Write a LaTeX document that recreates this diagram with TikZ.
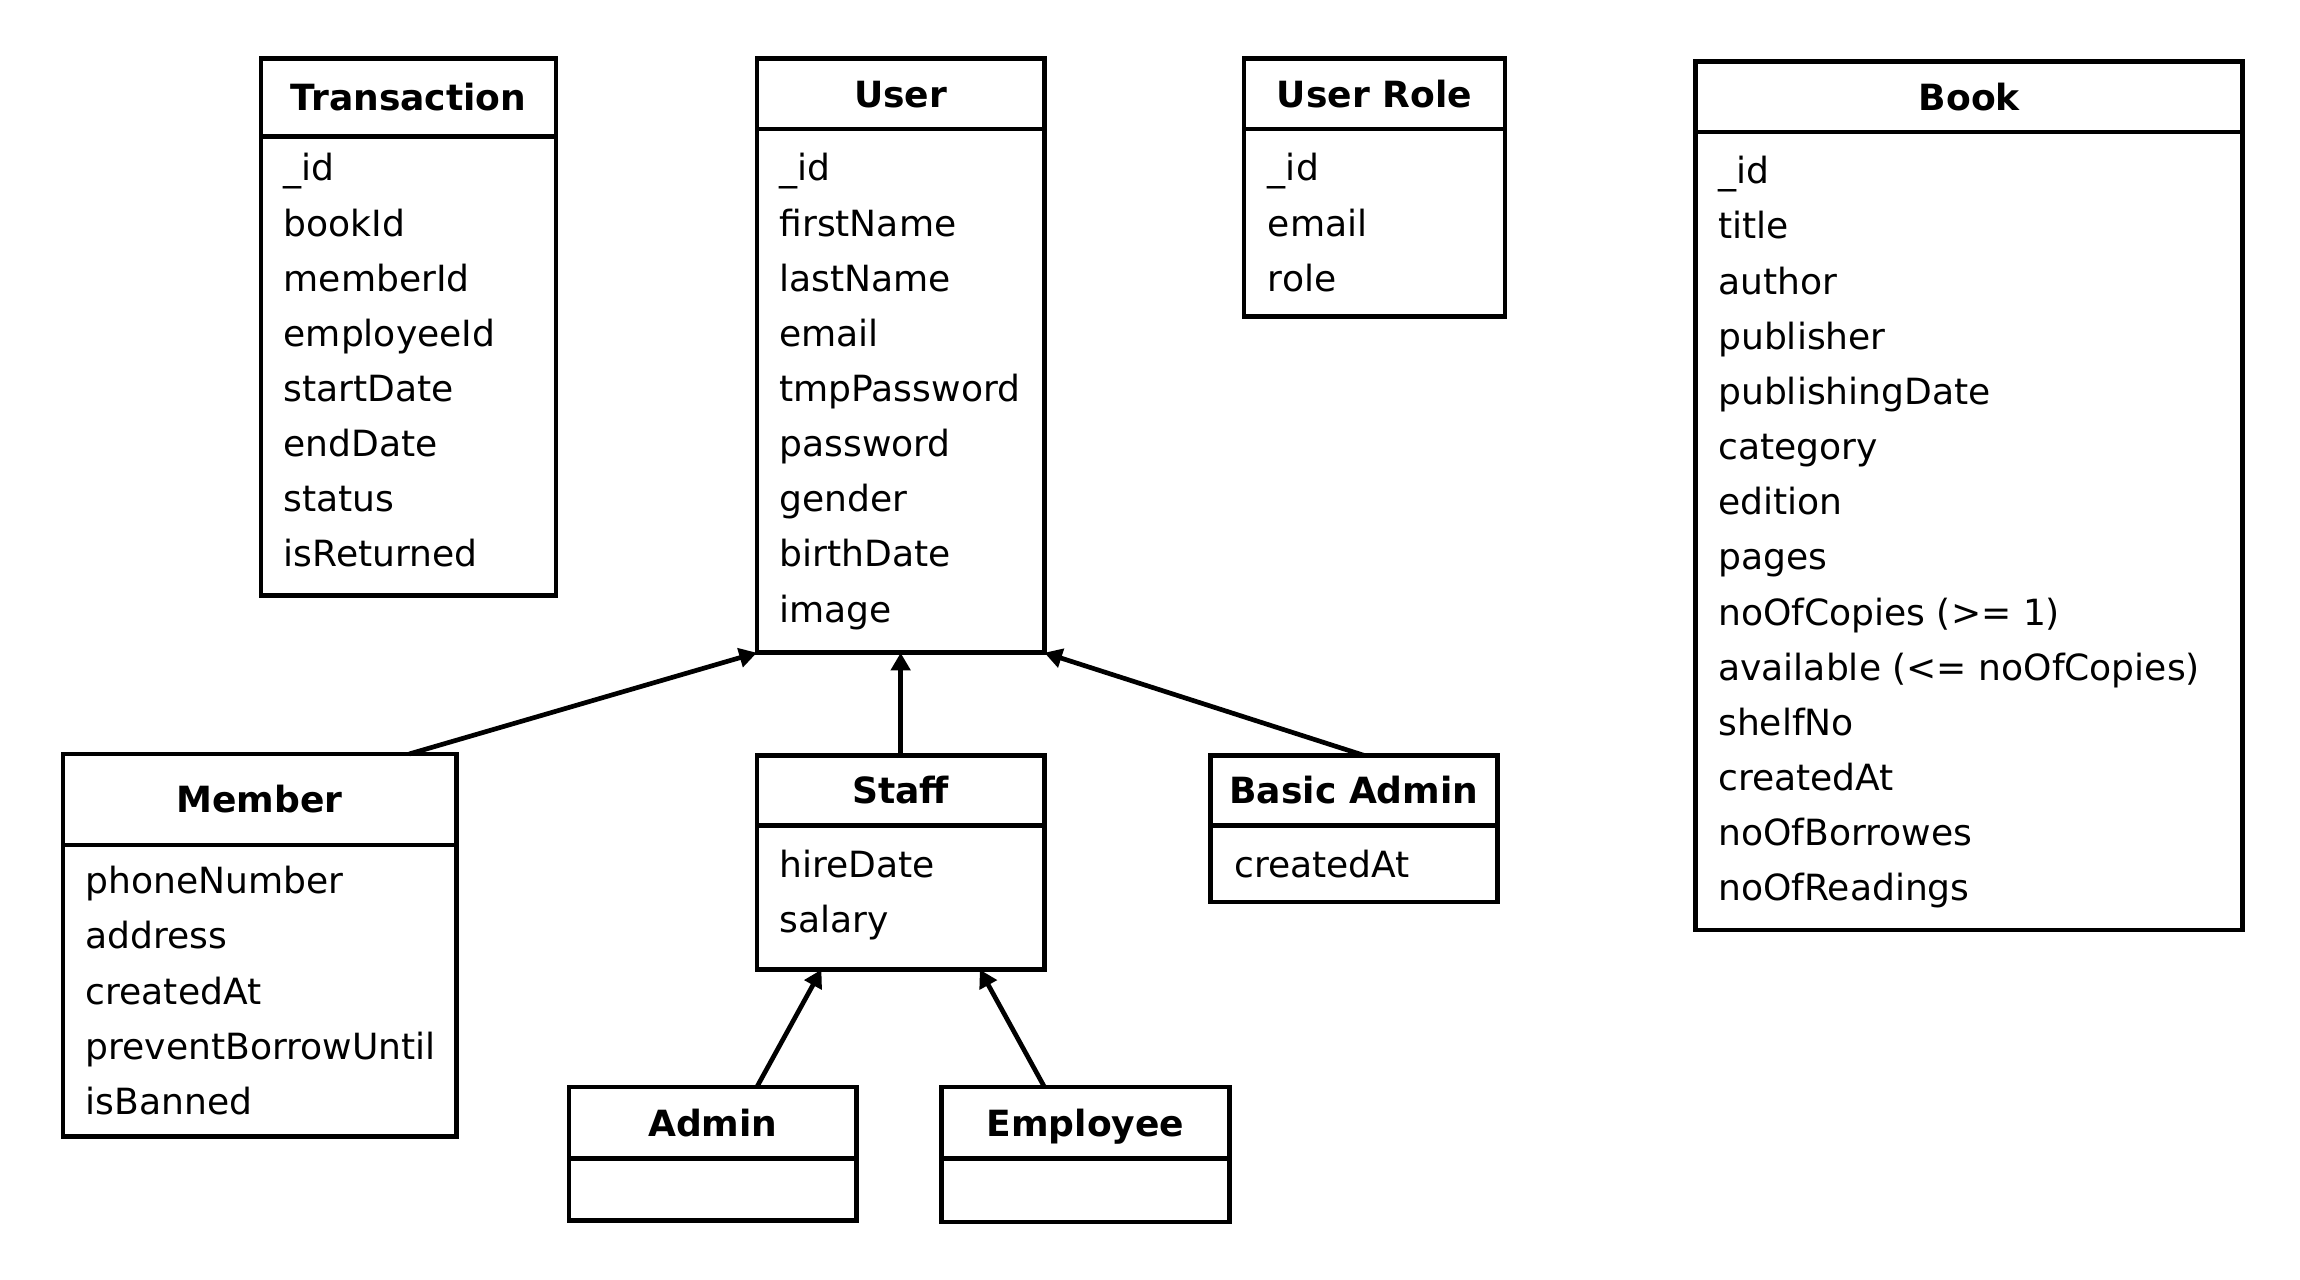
\documentclass[tikz,border=0pt]{standalone}
\usepackage{fontspec}
\setmainfont{DejaVu Sans}
\usetikzlibrary{positioning,arrows.meta}

\begin{document}
\begin{tikzpicture}[x=1pt, y=-1pt,
    head/.style={draw, line width=1.6pt, outer sep=0pt, inner sep=0pt, font=\bfseries,
        text height=9pt, text depth=0pt, anchor=north west},
    body/.style={draw, line width=1.6pt, outer sep=0pt, inner sep=0pt, anchor=north},
    attrs/.style={inner sep=0pt, align=left},
    isa/.style={-{Triangle[length=6pt, width=6.5pt]}, line width=1.6pt}]
\fontsize{12.3pt}{18.8pt}\selectfont
\useasboundingbox (0,0) rectangle (784,436.3);

% Nodes
\node[head, minimum width=100.5pt, minimum height=26.5pt] (transaction) at (89,20) {Transaction};
\node[body, minimum width=100.5pt, minimum height=156.5pt] (transaction-body) at (transaction.south) {};
\node[attrs, below right=5.6pt and 7.5pt of transaction-body.north west] (transaction-attrs)
    {\_id\\bookId\\memberId\\employeeId\\startDate\\endDate\\status\\isReturned};

\node[head, minimum width=98pt, minimum height=24pt] (user) at (258,20) {User};
\node[body, minimum width=98pt, minimum height=178.5pt] (user-body) at (user.south) {};
\node[attrs, below right=8.1pt and 7.5pt of user-body.north west] (user-attrs)
    {\_id\\firstName\\lastName\\email\\tmpPassword\\password\\gender\\birthDate\\image};

\node[head, minimum width=89pt, minimum height=24pt] (user-role) at (424,20) {User Role};
\node[body, minimum width=89pt, minimum height=64pt] (user-role-body) at (user-role.south) {};
\node[attrs, below right=8.1pt and 8pt of user-role-body.north west] (user-role-attrs)
    {\_id\\email\\role};

\node[head, minimum width=186.5pt, minimum height=24pt] (book) at (578,21) {Book};
\node[body, minimum width=186.5pt, minimum height=272pt] (book-body) at (book.south) {};
\node[attrs, below right=8.1pt and 7.5pt of book-body.north west] (book-attrs)
    {\_id\\title\\author\\publisher\\publishingDate\\category\\edition\\pages\\noOfCopies (>= 1)\\
     available (<= noOfCopies)\\shelfNo\\createdAt\\noOfBorrowes\\noOfReadings};

\node[head, minimum width=134pt, minimum height=31pt] (member) at (21.5,257) {Member};
\node[body, minimum width=134pt, minimum height=99.5pt] (member-body) at (member.south) {};
\node[attrs, below right=7.1pt and 7.5pt of member-body.north west] (member-attrs)
    {phoneNumber\\address\\createdAt\\preventBorrowUntil\\isBanned};

\node[head, minimum width=98pt, minimum height=24pt] (staff) at (258,257.5) {Staff};
\node[body, minimum width=98pt, minimum height=49pt] (staff-body) at (staff.south) {};
\node[attrs, below right=8.1pt and 7.5pt of staff-body.north west] (staff-attrs)
    {hireDate\\salary};

\node[head, minimum width=98pt, minimum height=24pt] (basic-admin) at (412.5,257.5) {Basic Admin};
\node[body, minimum width=98pt, minimum height=26pt] (basic-admin-body) at (basic-admin.south) {};
\node[attrs, below right=8.1pt and 8pt of basic-admin-body.north west] (basic-admin-attrs)
    {createdAt};

\node[head, minimum width=98pt, minimum height=24.5pt] (admin) at (194,370.5) {Admin};
\node[body, minimum width=98pt, minimum height=21pt] (admin-body) at (admin.south) {};

\node[head, minimum width=98pt, minimum height=24.5pt] (employee) at (321,370.5) {Employee};
\node[body, minimum width=98pt, minimum height=21.5pt] (employee-body) at (employee.south) {};

% Arrows
\draw[isa] ([xshift=51pt]member.north) -- (user-body.south west);
\draw[isa] (staff.north) -- (user-body.south);
\draw[isa] ([xshift=3.5pt]basic-admin.north) -- (user-body.south east);
\draw[isa] (admin.north -| staff-body.west) -- ([xshift=-27pt]staff-body.south);
\draw[isa] (employee.north -| staff-body.east) -- ([xshift=27pt]staff-body.south);

\end{tikzpicture}
\end{document}
